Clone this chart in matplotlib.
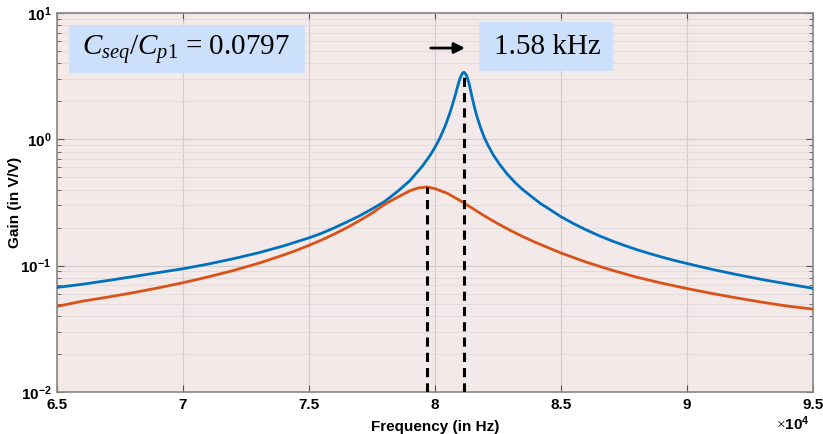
import matplotlib
matplotlib.use("Agg")
import matplotlib.pyplot as plt
from matplotlib.patches import Rectangle
from matplotlib.ticker import FixedLocator, NullFormatter, LogLocator

# ---- data ----
freq_blue = [65000, 66000, 67000, 68000, 69000, 70000, 71000, 72000, 73000, 74000,
             75000, 75500, 76000, 76500, 77000, 77500, 78000, 78500, 79000, 79500,
             79800, 80000, 80100, 80200, 80300, 80400, 80500, 80600, 80700, 80800,
             80900, 81000, 81100, 81150, 81250, 81350, 81450, 81550, 81650, 81800,
             81950, 82100, 82300, 82550, 82850, 83200, 83500, 83850, 84200, 84600,
             85000, 85500, 86000, 86500, 87000, 87500, 88000, 88500, 89000, 89500,
             90000, 91000, 92000, 93000, 94000, 95000]
gain_blue = [0.0673, 0.0712, 0.0762, 0.0818, 0.0880, 0.0945, 0.1030, 0.1135, 0.1265, 0.1435,
             0.166, 0.1805, 0.199, 0.2215, 0.2476, 0.281, 0.322, 0.385, 0.47, 0.614,
             0.744, 0.866, 0.943, 1.03, 1.143, 1.27, 1.44, 1.64, 1.90, 2.22,
             2.64, 3.07, 3.36, 3.4, 3.22, 2.78, 2.25, 1.85, 1.55, 1.25,
             1.04, 0.90, 0.76, 0.64, 0.535, 0.45, 0.397, 0.35, 0.309, 0.275,
             0.244, 0.215, 0.192, 0.173, 0.1576, 0.145, 0.134, 0.125, 0.117, 0.110,
             0.104, 0.0934, 0.0848, 0.0776, 0.0716, 0.0662]

freq_orange = [65000, 66000, 67000, 68000, 69000, 70000, 71000, 72000, 73000, 74000,
               74500, 75000, 75500, 76000, 76500, 77000, 77500, 78000, 78500, 79000,
               79300, 79670, 80000, 80500, 81000, 81500, 82000, 82500, 83000, 83500,
               84000, 85000, 86000, 87000, 88000, 89000, 90000, 91000, 92000, 93000,
               94000, 95000]
gain_orange = [0.0476, 0.0523, 0.0563, 0.0610, 0.0666, 0.0733, 0.0815, 0.0916, 0.1045, 0.1216,
               0.1322, 0.1448, 0.1597, 0.1778, 0.1998, 0.2269, 0.2604, 0.306, 0.347, 0.391,
               0.411, 0.42, 0.407, 0.373, 0.327, 0.283, 0.245, 0.2146, 0.1896, 0.1692,
               0.1525, 0.1259, 0.1067, 0.0923, 0.0811, 0.0727, 0.0659, 0.0602, 0.0554, 0.0513,
               0.0478, 0.0453]

peak_orange = (79670, 0.42)
peak_blue = (81150, 3.4)

x_ticks = [65000, 70000, 75000, 80000, 85000, 90000, 95000]
x_tick_labels = ["6.5", "7", "7.5", "8", "8.5", "9", "9.5"]
y_ticks = [1e-2, 1e-1, 1e0, 1e1]
y_tick_labels = [r"$\mathbf{10^{-2}}$", r"$\mathbf{10^{-1}}$", r"$\mathbf{10^{0}}$", r"$\mathbf{10^{1}}$"]

ratio_text = r"$C_{seq}/C_{p\mathit{1}}$ = 0.0797"
shift_text = "1.58 kHz"

# ---- figure ----
plt.rcParams["mathtext.fontset"] = "custom"
plt.rcParams["mathtext.rm"] = "Liberation Serif"
plt.rcParams["mathtext.it"] = "Liberation Serif:italic"
plt.rcParams["mathtext.bf"] = "Liberation Sans:bold"

W, H = 823, 434
fig = plt.figure(figsize=(8.23, 4.34), dpi=100)
ax = fig.add_axes([57/W, 42/H, (813-57)/W, (392-13)/H])
ax.set_facecolor("#f3e9e9")

ax.plot(freq_blue, gain_blue, color="#0072BD", lw=2, zorder=3)
ax.plot(freq_orange, gain_orange, color="#D95319", lw=2, zorder=3)

for (fx, gy) in (peak_orange, peak_blue):
    ax.plot([fx, fx], [0.01, gy], color="black", lw=2.2, ls=(0, (3, 2)), zorder=4)

ax.set_yscale("log")
ax.set_xlim(65000, 95000)
ax.set_ylim(1e-2, 1e1)

ax.set_xticks(x_ticks)
ax.set_xticklabels(x_tick_labels, fontweight="bold", fontsize=11, family="Liberation Sans")
ax.yaxis.set_major_locator(FixedLocator(y_ticks))
ax.set_yticklabels(y_tick_labels, fontsize=11)
ax.yaxis.set_minor_locator(LogLocator(base=10, subs=range(2, 10)))
ax.yaxis.set_minor_formatter(NullFormatter())

ax.tick_params(which="both", direction="in", top=True, right=True, color="#555555")
ax.tick_params(which="major", length=5, pad=4)
ax.tick_params(which="minor", length=3)

ax.grid(True, which="major", color="#d0cccc", lw=0.8)
ax.grid(True, which="minor", axis="y", color="#e2dada", lw=0.6)
ax.set_axisbelow(True)
for s in ax.spines.values():
    s.set_color("#888888")
    s.set_linewidth(1.2)

ax.set_xlabel("Frequency (in Hz)", fontweight="bold", fontsize=11, family="Liberation Sans", labelpad=6)
ax.set_ylabel("Gain (in V/V)", fontweight="bold", fontsize=11, family="Liberation Sans")
ax.yaxis.set_label_coords((22-57)/756, 0.5)

fig.text(810/W, (H-424)/H, r"$\times\mathbf{10^{4}}$", ha="right", va="center", fontsize=11)

# text boxes (drawn as figure-level rectangles)
fig.add_artist(Rectangle((69/W, (H-73)/H), (305-69)/W, 48/H, transform=fig.transFigure,
                         fc="#cce0fb", ec="none", zorder=5))
fig.add_artist(Rectangle((479/W, (H-71)/H), (613-479)/W, 49/H, transform=fig.transFigure,
                         fc="#cce0fb", ec="none", zorder=5))
fig.text(186/W, (H-49)/H, ratio_text, ha="center", va="center", fontsize=21,
         family="Liberation Serif", zorder=6)
fig.text(547/W, (H-46.5)/H, shift_text, ha="center", va="center", fontsize=21,
         family="Liberation Serif", zorder=6)

ax.annotate("", xy=(81300, 5.28), xytext=(79720, 5.28),
            arrowprops=dict(arrowstyle="-|>", color="black", lw=2, mutation_scale=16))

fig.savefig("out.png", dpi=100)
